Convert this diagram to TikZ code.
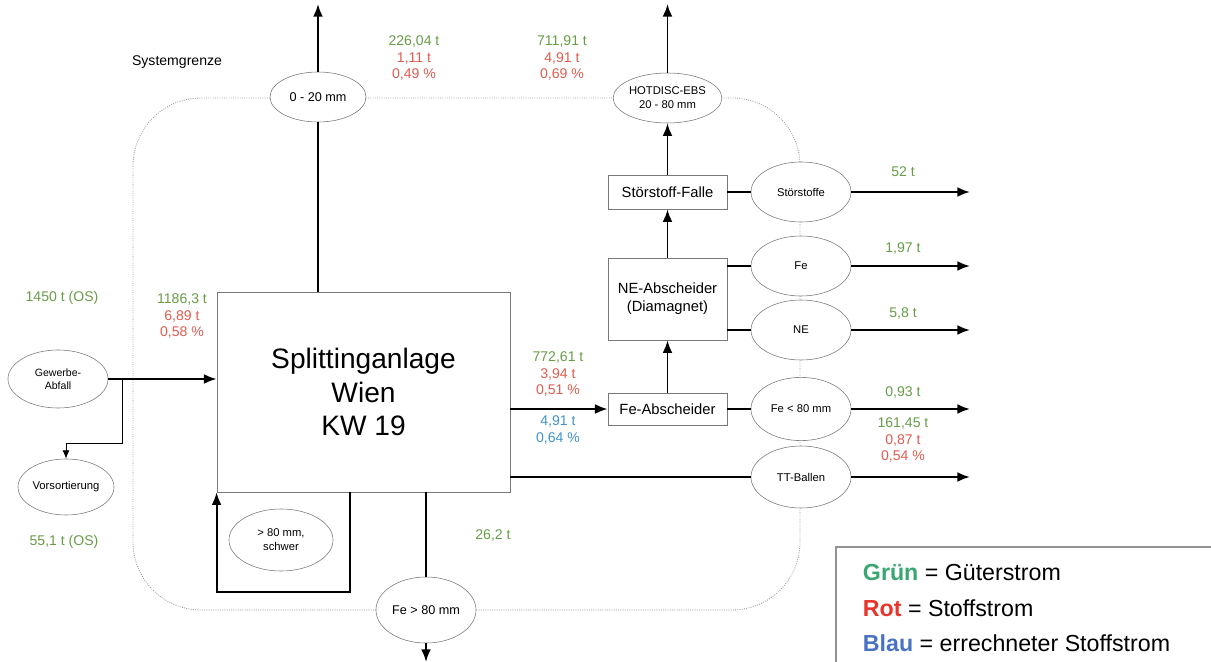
\documentclass[tikz,border=0pt]{standalone}
\usepackage{fontspec}
\setmainfont{Liberation Sans}
\usetikzlibrary{shapes.geometric, arrows.meta}
\definecolor{gut}{RGB}{104,156,72}
\definecolor{stoff}{RGB}{222,92,80}
\definecolor{rech}{RGB}{66,146,206}
\definecolor{legGruen}{RGB}{58,166,114}
\definecolor{legRot}{RGB}{232,52,42}
\definecolor{legBlau}{RGB}{74,114,196}
\definecolor{rand}{RGB}{120,120,120}
\tikzset{
    proc/.style={rectangle, draw=rand, fill=white, align=center, inner sep=2pt, minimum width=2.98cm, font=\fontsize{10.5}{13}\selectfont},
    pool/.style={ellipse, draw=rand, fill=white, align=center, inner sep=0pt, minimum width=2.5cm, minimum height=1.5cm, font=\fontsize{8}{10}\selectfont},
    val/.style={align=center, font=\fontsize{10}{12}\selectfont, text=gut},
    flow/.style={line width=1.4pt, -{Latex[length=9pt,width=7pt]}},
    link/.style={line width=1.4pt},
    branch/.style={line width=0.6pt, -{Latex[length=6pt,width=5pt]}},
    grenze/.style={draw=rand!80, densely dotted, line width=0.6pt}
}

\begin{document}
\begin{tikzpicture}[x=0.025cm, y=-0.025cm]
    \useasboundingbox (0,0) rectangle (1211,662);

    % system boundary, drawn first so the ellipses sit on top
    \draw [grenze, rounded corners=1.7cm] (133,98) rectangle (800,610);
    \node (grenzeText) [font=\fontsize{10}{12}\selectfont] at (177,62) {Systemgrenze};

    \node (split) [proc, minimum width=7.33cm, minimum height=5cm, font=\fontsize{20}{24}\selectfont] at (363.5,392) {Splittinganlage\\Wien\\KW 19};

    \node (sieb) [pool, minimum width=2.4cm, minimum height=1.25cm, font=\fontsize{9}{11}\selectfont] at (318,97) {0 - 20 mm};
    \node (hotdisc) [pool, minimum width=2.45cm, minimum height=1.25cm] at (667.5,98) {HOTDISC-EBS\\20 - 80 mm};

    \node (falle) [proc, minimum height=0.85cm] at (667.5,192) {Störstoff-Falle};
    \node (neab) [proc, minimum height=2.05cm] at (667.5,299) {NE-Abscheider\\(Diamagnet)};
    \node (feab) [proc, minimum height=0.8cm] at (667.5,409) {Fe-Abscheider};

    \node (stoerst) [pool] at (801,192) {Störstoffe};
    \node (fe) [pool] at (801,266) {Fe};
    \node (ne) [pool] at (801,330) {NE};
    \node (fe80k) [pool, minimum height=1.58cm] at (801,409) {Fe < 80 mm};
    \node (tt) [pool, minimum height=1.55cm] at (801,477) {TT-Ballen};

    \node (gewerbe) [pool, minimum height=1.45cm, font=\fontsize{7.5}{9.5}\selectfont] at (58,379) {Gewerbe-\\Abfall};
    \node (vors) [pool, minimum width=2.4cm, minimum height=1.4cm] at (66,487) {Vorsortierung};
    \node (schwer) [pool, minimum width=2.6cm, minimum height=1.55cm] at (281,540) {> 80 mm,\\schwer};
    \node (fe80g) [pool, minimum height=1.65cm, font=\fontsize{9}{11}\selectfont] at (426,610) {Fe > 80 mm};

    \coordinate (outSieb) at (318,4);
    \coordinate (outHot) at (667.5,4);
    \coordinate (outFe) at (426,662);
    \coordinate (ausgang) at (970,0);

    \draw [link] (sieb |- split.north) -- (sieb.south);
    \draw [flow] (sieb.north) -- (outSieb);
    \draw [flow] (hotdisc.north) -- (outHot);
    \draw [flow] (falle.north) -- (hotdisc.south);
    \draw [flow] (neab.north) -- (falle.south);
    \draw [flow] (feab.north) -- (neab.south);
    \draw [flow] (split.east |- feab) -- (feab.west);
    \draw [link] (falle.east) -- (stoerst.west);
    \draw [link] (neab.east |- fe) -- (fe.west);
    \draw [link] (neab.east |- ne) -- (ne.west);
    \draw [link] (feab.east) -- (fe80k.west);
    \draw [line width=1pt] (split.east |- tt) -- (tt.west);
    \foreach \n in {stoerst, fe, ne, fe80k, tt}
        \draw [flow] (\n.east) -- (\n -| ausgang);

    \draw [flow] (gewerbe.east) -- (split.west |- gewerbe);
    \draw [branch] (gewerbe.east) ++(14,0) -- ++(0,64) -| (vors.north);
    \draw [flow] (split.south west) ++(133,0) -- ++(0,100) -| (split.south west);
    \draw [link] (fe80g |- split.south) -- (fe80g.north);
    \draw [flow] (fe80g.south) -- (outFe);

    % mass values
    \node (wSieb) [val] at (414,58) {226,04 t\\\textcolor{stoff}{1,11 t}\\\textcolor{stoff}{0,49 \%}};
    \node (wHot) [val] at (562,58) {711,91 t\\\textcolor{stoff}{4,91 t}\\\textcolor{stoff}{0,69 \%}};
    \node (wInput) [val] at (182,316) {1186,3 t\\\textcolor{stoff}{6,89 t}\\\textcolor{stoff}{0,58 \%}};
    \node (wFeab) [val] at (558,374) {772,61 t\\\textcolor{stoff}{3,94 t}\\\textcolor{stoff}{0,51 \%}};
    \node (wFeabRech) [val, text=rech] at (558,430) {4,91 t\\0,64 \%};
    \node (wTT) [val] at (903,440) {161,45 t\\\textcolor{stoff}{0,87 t}\\\textcolor{stoff}{0,54 \%}};
    \node (wStoer) [val] at (903,172) {52 t};
    \node (wFe) [val] at (903,248) {1,97 t};
    \node (wNE) [val] at (903,313) {5,8 t};
    \node (wFeK) [val] at (903,392) {0,93 t};
    \node (wFeG) [val] at (493,535) {26,2 t};
    \node (wGew) [val] at (62,298) {1450 t (OS)};
    \node (wVors) [val] at (64,542) {55,1 t (OS)};

    % legend
    \draw [draw=rand!80, line width=0.8pt] (836,662) -- (836,547) -- (1211,547);
    \node (legGut) [anchor=west, font=\fontsize{16.5}{20}\selectfont] at (858,573) {\textcolor{legGruen}{\textbf{Grün}} = Güterstrom};
    \node (legStoff) [anchor=west, font=\fontsize{16.5}{20}\selectfont] at (858,608) {\textcolor{legRot}{\textbf{Rot}} = Stoffstrom};
    \node (legRech) [anchor=west, font=\fontsize{16.5}{20}\selectfont] at (858,643) {\textcolor{legBlau}{\textbf{Blau}} = errechneter Stoffstrom};
\end{tikzpicture}
\end{document}
